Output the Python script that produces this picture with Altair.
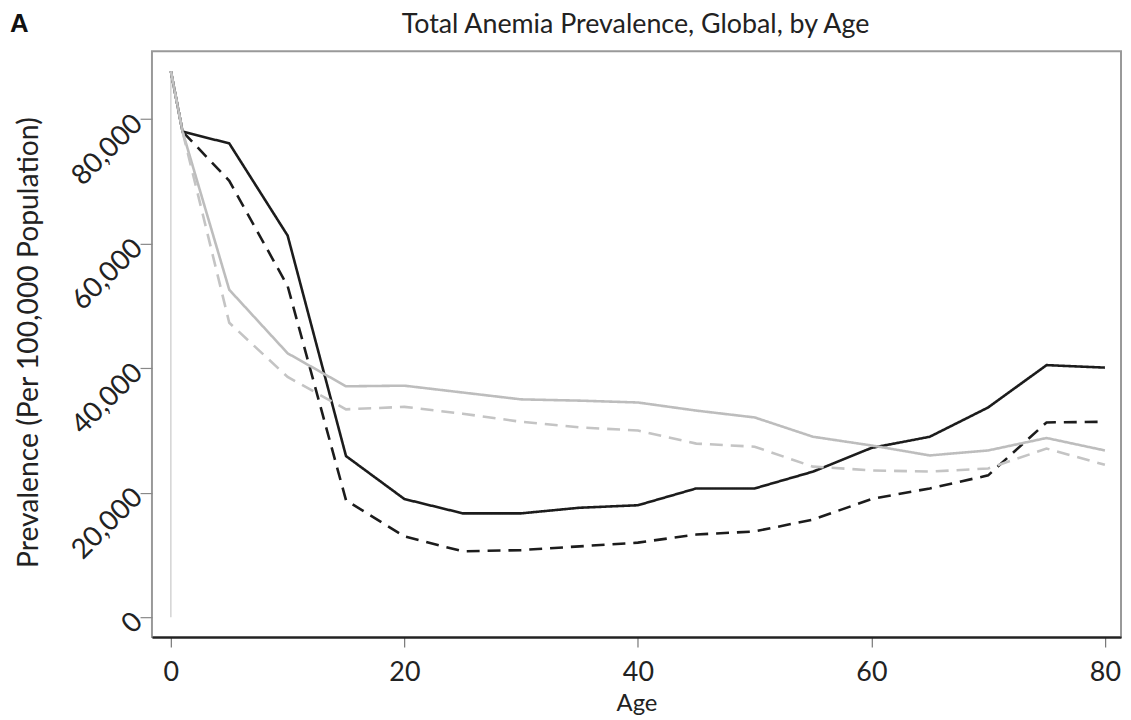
import altair as alt
import pandas as pd

ages = [0, 1, 5, 10, 15, 20, 25, 30, 35, 40, 45, 50, 55, 60, 65, 70, 75, 80]
black_solid = [87700, 78000, 76100, 61300, 25900, 19000, 16700, 16700, 17600, 18000,
               20700, 20700, 23400, 27200, 29000, 33700, 40500, 40100]
black_dashed = [87700, 78000, 70100, 53200, 18800, 13000, 10600, 10800, 11400, 12000,
                13300, 13800, 15700, 19000, 20700, 22800, 31300, 31400]
gray_solid = [87700, 78000, 52600, 42400, 37100, 37200, 36100, 35000, 34800, 34500,
              33200, 32100, 29000, 27600, 26000, 26800, 28800, 26800]
gray_dashed = [87700, 78000, 47300, 38600, 33400, 33800, 32700, 31400, 30500, 30000,
               27900, 27400, 24200, 23600, 23400, 23900, 27100, 24500]
series_names = ["Black solid", "Black dashed", "Gray solid", "Gray dashed"]
series_colors = ["#1c1c1c", "#1c1c1c", "#bdbdbd", "#c4c4c4"]
series_dash = [[1, 0], [13, 8], [1, 0], [13, 8]]
series_width = [2.6, 2.6, 2.2, 2.2]

start_line_age = [0]
start_line_low = [0]
start_line_high = [87700]

x_ticks = [0, 20, 40, 60, 80]
y_ticks = [0, 20000, 40000, 60000, 80000]

chart_title = "Total Anemia Prevalence, Global, by Age"
panel_letter = "A"

rows = []
for name, vals in zip(series_names, [black_solid, black_dashed, gray_solid, gray_dashed]):
    for a, v in zip(ages, vals):
        rows.append({"age": a, "value": v, "series": name})
df = pd.DataFrame(rows)

xscale = alt.Scale(domain=[-1.62, 81.38], nice=False, zero=False)
yscale = alt.Scale(domain=[-3160, 90900], nice=False, zero=False)

FONT = "Lato"

xaxis = alt.Axis(values=x_ticks, title="Age", grid=False, tickSize=10,
                 tickColor="#777777", tickWidth=1.2, domainColor="#222222",
                 domainWidth=2.2, labelFontSize=27, labelFont=FONT, labelColor="#222222",
                 labelPadding=13, titleFont=FONT, titleFontSize=24,
                 titleFontWeight="normal", titleColor="#222222",
                 titleX=488, titleY=74, titleBaseline="alphabetic", titleAlign="center")
yaxis = alt.Axis(values=y_ticks, format=",.0f", title="Prevalence (Per 100,000 Population)",
                 grid=False, domain=False, tickSize=12, tickColor="#888888",
                 tickWidth=1.2, labelAngle=315, labelAlign="right",
                 labelBaseline="middle", labelFontSize=28, labelFont=FONT,
                 labelColor="#222222", labelPadding=2, titleFont=FONT,
                 titleFontSize=28.5, titleFontWeight="normal", titleColor="#222222",
                 titleAngle=270, titleX=-124, titleY=293, titleAlign="center",
                 titleBaseline="middle")

lines = alt.Chart(df).mark_line(strokeCap="butt", strokeJoin="miter").encode(
    x=alt.X("age:Q", scale=xscale, axis=xaxis),
    y=alt.Y("value:Q", scale=yscale, axis=yaxis),
    color=alt.Color("series:N", scale=alt.Scale(domain=series_names, range=series_colors), legend=None),
    strokeDash=alt.StrokeDash("series:N", scale=alt.Scale(domain=series_names, range=series_dash), legend=None),
    strokeWidth=alt.StrokeWidth("series:N", scale=alt.Scale(domain=series_names, range=series_width), legend=None),
    order="age:Q",
)

start_df = pd.DataFrame({"age": start_line_age, "low": start_line_low, "high": start_line_high})
start_rule = alt.Chart(start_df).mark_rule(color="#c8c8c8", strokeWidth=1.2).encode(
    x=alt.X("age:Q", scale=xscale),
    y=alt.Y("low:Q", scale=yscale),
    y2="high:Q",
)

label_df = pd.DataFrame({"t": [panel_letter]})
panel_label = alt.Chart(label_df).mark_text(
    font="Liberation Sans", fontSize=26, fontWeight="bold", color="#111111",
    align="left", baseline="middle").encode(
    text="t:N", x=alt.value(-143), y=alt.value(-27))

title_df = pd.DataFrame({"t": [chart_title]})
title_mark = alt.Chart(title_df).mark_text(
    font=FONT, fontSize=27, color="#222222", align="center",
    baseline="middle").encode(text="t:N", x=alt.value(487), y=alt.value(-26))

chart = alt.layer(start_rule, lines, panel_label, title_mark).properties(
    width=976, height=590,
    padding={"left": 145, "top": 41, "right": 2, "bottom": 80},
    autosize=alt.AutoSizeParams(type="none"),
).configure(background="white", view=alt.ViewConfig(stroke="#999999", strokeWidth=2))

chart.save("out.html", embed_options={"renderer": "svg", "actions": False})
